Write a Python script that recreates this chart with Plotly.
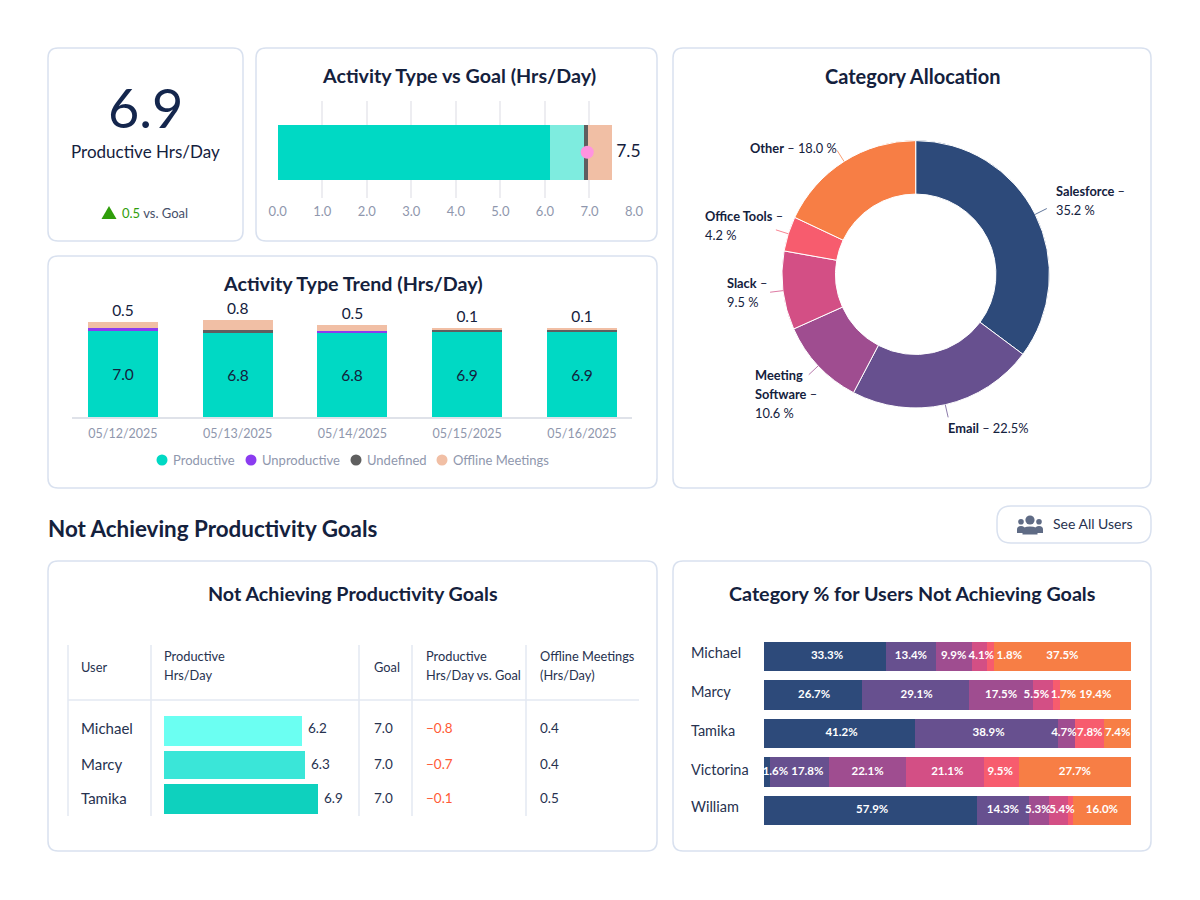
import math
import plotly.graph_objects as go

# ---------- data ----------
goal_axis_ticks = [0, 1, 2, 3, 4, 5, 6, 7, 8]
goal_stack_names = ["Productive", "Productive (other)", "Undefined", "Offline Meetings"]
goal_stack_values = [6.1, 0.77, 0.09, 0.54]
goal_marker_value = 6.95
goal_total = 7.5

trend_dates = ["05/12/2025", "05/13/2025", "05/14/2025", "05/15/2025", "05/16/2025"]
trend_productive = [7.0, 6.8, 6.8, 6.9, 6.9]
trend_unproductive = [0.2, 0.0, 0.2, 0.0, 0.0]
trend_undefined = [0.0, 0.22, 0.0, 0.2, 0.2]
trend_offline = [0.5, 0.85, 0.5, 0.14, 0.14]
trend_offline_labels = ["0.5", "0.8", "0.5", "0.1", "0.1"]

donut_labels = ["Salesforce", "Email", "Meeting Software", "Slack", "Office Tools", "Other"]
donut_values = [35.2, 22.5, 10.6, 9.5, 4.2, 18.0]

table_users = ["Michael", "Marcy", "Tamika"]
table_productive = [6.2, 6.3, 6.9]
table_goal = [7.0, 7.0, 7.0]
table_vs_goal = [-0.8, -0.7, -0.1]
table_offline = [0.4, 0.4, 0.5]

cat_users = ["Michael", "Marcy", "Tamika", "Victorina", "William"]
# printed percentages
cat_salesforce = [33.3, 26.7, 41.2, 1.6, 57.9]
cat_email = [13.4, 29.1, 38.9, 17.8, 14.3]
cat_meeting = [9.9, 17.5, 4.7, 22.1, 5.3]
cat_slack = [4.1, 5.5, 0.0, 21.1, 5.4]
cat_office = [1.8, 1.7, 7.8, 9.5, 1.1]
cat_other = [37.5, 19.4, 7.4, 27.7, 16.0]
# Victorina's drawn segment lengths differ from her printed percentages in the picture
victorina_drawn = [1.6, 16.2, 20.8, 21.2, 9.6, 30.5]
cat_hidden_labels = {("William", "Office Tools")}
# sideways label nudges, in percent points, where labels would collide
cat_nudges = [[0.5, 0, 0, 0.5, 5.2, 0],
              [0.3, 0.3, 0, -1.9, 1.9, 0],
              [0.5, 0.5, -0.8, 0, 0, 0],
              [2.3, 2.1, 0, 0.7, -0.3, 0],
              [0.5, 0, -0.3, 0.9, 0, 0]]

legend_names = ["Productive", "Unproductive", "Undefined", "Offline Meetings"]

# ---------- style ----------
FONT = "Lato"
INK = "#14213d"
GREY = "#8f97ad"
TEAL = "#00d9c4"
LTEAL = "#7eecdf"
PURPLE = "#8b3cf0"
DARK = "#5f5f5f"
PEACH = "#f1bfa5"
PINK = "#ff94e0"
BORDER = "#d9e1ef"
RULE = "#e3e8f2"
CAT_COLORS = ["#2d4a7a", "#67508f", "#9f4d90", "#d34f85", "#f75c6e", "#f77e45"]
ROW_COLORS = ["#6bfff2", "#3ae6d8", "#0ed1be"]
RED = "#ff5a36"
GREEN = "#2f9e0b"
ICON = "#5f6b85"
TABLE_INK = "#27324f"
TITLE = 19.7

W, H = 1200, 900
X = lambda p: p / W
Y = lambda p: 1 - p / H
xdom = lambda a, b: [X(a), X(b)]
ydom = lambda top, bottom: [Y(bottom), Y(top)]

shapes, annots = [], []


def text(x, y, s, size=13, color=INK, anchor="left", weight=400):
    annots.append(dict(x=X(x), y=Y(y), xref="paper", yref="paper", text=s, showarrow=False,
                       xanchor=anchor, yanchor="middle", align=anchor, borderpad=0, borderwidth=0,
                       font=dict(family=FONT, size=size, color=color, weight=weight)))


def round_rect(x0, y0, x1, y1, r=10, color=BORDER, width=1.5, fill="white"):
    rx, ry = r / W, r / H
    a, b, c, d = X(x0), Y(y0), X(x1), Y(y1)
    path = (f"M {a+rx},{b} L {c-rx},{b} Q {c},{b} {c},{b-ry} L {c},{d+ry} Q {c},{d} {c-rx},{d} "
            f"L {a+rx},{d} Q {a},{d} {a},{d+ry} L {a},{b-ry} Q {a},{b} {a+rx},{b} Z")
    shapes.append(dict(type="path", path=path, xref="paper", yref="paper",
                       line=dict(color=color, width=width), fillcolor=fill, layer="below"))


def rule(x0, y0, x1, y1, color=RULE, width=1.5, layer="below", opacity=1):
    shapes.append(dict(type="line", x0=X(x0), y0=Y(y0), x1=X(x1), y1=Y(y1), xref="paper", yref="paper",
                       line=dict(color=color, width=width), layer=layer, opacity=opacity))


def circle(cx, cy, r, color):
    shapes.append(dict(type="circle", x0=X(cx - r), x1=X(cx + r), y0=Y(cy + r), y1=Y(cy - r),
                       xref="paper", yref="paper", fillcolor=color, line=dict(width=0), layer="above"))


def body(x0, x1, top, bottom, color):
    a, c, b, d = X(x0), X(x1), Y(top), Y(bottom)
    m = (a + c) / 2
    path = f"M {a},{d} L {a},{(b+d)/2} Q {a},{b} {m},{b} Q {c},{b} {c},{(b+d)/2} L {c},{d} Z"
    shapes.append(dict(type="path", path=path, xref="paper", yref="paper",
                       fillcolor=color, line=dict(width=0), layer="above"))


# ---------- cards ----------
for box in [(48, 48, 243, 241), (256, 48, 657, 241), (48, 256, 657, 488), (673, 48, 1151, 488),
            (48, 561, 657, 851), (673, 561, 1151, 851)]:
    round_rect(*box)
round_rect(997, 506, 1151, 543, r=14)

fig = go.Figure()

# ---------- KPI card ----------
text(145.5, 107, "6.9", size=54, anchor="center", color="#14264d")
text(145.5, 151, "Productive Hrs/Day", size=17, anchor="center")
shapes.append(dict(type="path", xref="paper", yref="paper", fillcolor=GREEN, line=dict(width=0), layer="above",
                   path=f"M {X(101.5)},{Y(219)} L {X(109)},{Y(206)} L {X(116.5)},{Y(219)} Z"))
text(122, 213, f'<span style="color:{GREEN}">0.5</span> vs. Goal', size=13, color="#465069")

# ---------- Activity vs goal ----------
text(458.5, 76, "Activity Type vs Goal (Hrs/Day)", size=TITLE, anchor="center", weight=700)
for name, v, c in zip(goal_stack_names, goal_stack_values, [TEAL, LTEAL, DARK, PEACH]):
    fig.add_bar(x=[v], y=[0], orientation="h", name=name, marker=dict(color=c, line=dict(width=0)),
                width=0.567, xaxis="x", yaxis="y", showlegend=False)
fig.add_scatter(x=[goal_marker_value], y=[0], mode="markers", name="Goal", showlegend=False,
                marker=dict(color=PINK, size=13), xaxis="x", yaxis="y")
fig.add_scatter(x=[goal_total], y=[0], mode="text", text=[f" {goal_total:.1f}"], textposition="middle right",
                textfont=dict(family=FONT, size=17.5, color=INK), showlegend=False, xaxis="x", yaxis="y",
                cliponaxis=False)

# ---------- Trend ----------
text(352.5, 283.5, "Activity Type Trend (Hrs/Day)", size=TITLE, anchor="center", weight=700)
series = [("Productive", trend_productive, TEAL), ("Unproductive", trend_unproductive, PURPLE),
          ("Undefined", trend_undefined, DARK), ("Offline Meetings", trend_offline, PEACH)]
for name, vals, c in series:
    kw = {}
    if name == "Productive":
        kw = dict(text=[f"{v:.1f}" for v in vals], textposition="inside", insidetextanchor="middle",
                  textangle=0, insidetextfont=dict(family=FONT, size=15.5, color=INK))
    fig.add_bar(x=trend_dates, y=vals, name=name, marker=dict(color=c, line=dict(width=0)), width=0.61,
                xaxis="x2", yaxis="y2", showlegend=False, **kw)
totals = [sum(t) for t in zip(trend_productive, trend_unproductive, trend_undefined, trend_offline)]
fig.add_scatter(x=trend_dates, y=[t + 0.16 for t in totals], mode="text", text=trend_offline_labels,
                textposition="top center", textfont=dict(family=FONT, size=15.5, color=INK), showlegend=False,
                xaxis="x2", yaxis="y2", cliponaxis=False)
for name, cxp, tx, c in zip(legend_names, [162, 251, 356, 442], [173, 262, 367, 453],
                            [TEAL, PURPLE, DARK, PEACH]):
    circle(cxp, 460, 5.5, c)
    text(tx, 460, name, size=13, color=GREY)

# ---------- Donut ----------
text(912, 76, "Category Allocation", size=20, anchor="center", weight=700)
fig.add_pie(labels=donut_labels, values=donut_values, hole=0.6, sort=False, direction="clockwise", rotation=0,
            marker=dict(colors=CAT_COLORS, line=dict(color="white", width=1)), textinfo="none",
            domain=dict(x=xdom(782, 1049.4), y=ydom(140.6, 408)), showlegend=False)
cx, cy, R = 915.7, 274.3, 133.7
cum = 0
for v, c in zip(donut_values, CAT_COLORS):
    ang = math.radians((cum + v / 2) * 3.6)
    cum += v
    rule(cx + R * math.sin(ang), cy - R * math.cos(ang), cx + (R + 13) * math.sin(ang),
         cy - (R + 13) * math.cos(ang), color=c, width=1, layer="above", opacity=0.75)
pct = dict(zip(donut_labels, donut_values))
LBL = 12.8
text(1056, 191, "<b>Salesforce</b> –", size=LBL)
text(1056, 210, f"{pct['Salesforce']:.1f} %", size=LBL)
text(750, 148, f"<b>Other</b> – {pct['Other']:.1f} %", size=LBL)
text(705, 215.5, "<b>Office Tools</b> –", size=LBL)
text(705, 234.5, f"{pct['Office Tools']:.1f} %", size=LBL)
text(727, 283, "<b>Slack</b> –", size=LBL)
text(727, 302, f"{pct['Slack']:.1f} %", size=LBL)
text(755, 375, "<b>Meeting</b>", size=LBL)
text(755, 394, "<b>Software</b> –", size=LBL)
text(755, 413, f"{pct['Meeting Software']:.1f} %", size=LBL)
text(948, 428, f"<b>Email</b> – {pct['Email']:.1f}%", size=LBL)

# ---------- Section heading + button ----------
text(48, 528, "Not Achieving Productivity Goals", size=22.4, weight=700)
text(1053, 523.5, "See All Users", size=14, color=TABLE_INK)
circle(1021, 521.7, 2.8, ICON)
circle(1039, 521.7, 2.8, ICON)
body(1017, 1025, 526, 533, ICON)
body(1035, 1043, 526, 533, ICON)
circle(1030, 520, 4.6, ICON)
body(1022.5, 1037.5, 526.5, 534.5, ICON)

# ---------- Table ----------
text(352.5, 593.5, "Not Achieving Productivity Goals", size=TITLE, anchor="center", weight=700)
for vx in [68, 151, 359, 412, 526]:
    rule(vx, 645, vx, 816)
rule(68, 700, 639, 700)
for x0, y0, s in [(81, 666.5, "User"), (164, 655.5, "Productive"), (164, 674.5, "Hrs/Day"), (374, 666.5, "Goal"),
                  (426, 655.5, "Productive"), (426, 674.5, "Hrs/Day vs. Goal"),
                  (540, 655.5, "Offline Meetings"), (540, 674.5, "(Hrs/Day)")]:
    text(x0, y0, s, size=12.8, color=TABLE_INK)
fig.add_bar(y=table_users, x=table_productive, orientation="h", name="Productive Hrs/Day",
            width=[0.88, 0.81, 0.88], marker=dict(color=ROW_COLORS, line=dict(width=0)),
            xaxis="x3", yaxis="y3", showlegend=False)
TABLE_PX_PER_HOUR = 195 / 8.74
for yy, u, p, g, d, o in zip([727.5, 763.5, 797.5], table_users, table_productive, table_goal,
                             table_vs_goal, table_offline):
    text(81, yy, u, size=15, color=TABLE_INK)
    text(164 + p * TABLE_PX_PER_HOUR + 6, yy, f"{p:.1f}", size=13.5, color=TABLE_INK)
    text(374, yy, f"{g:.1f}", size=13.5, color=TABLE_INK)
    text(426, yy, f"−{abs(d):.1f}", size=13.5, color=RED)
    text(540, yy, f"{o:.1f}", size=13.5, color=TABLE_INK)

# ---------- Category % ----------
text(912, 593.5, "Category % for Users Not Achieving Goals", size=TITLE, anchor="center", weight=700)
cat_rows = [cat_salesforce, cat_email, cat_meeting, cat_slack, cat_office, cat_other]
drawn_rows = []
for j, vals in enumerate(cat_rows):
    row = list(vals)
    row[cat_users.index("Victorina")] = victorina_drawn[j]
    drawn_rows.append(row)
for name, vals, c in zip(donut_labels, drawn_rows, CAT_COLORS):
    fig.add_bar(y=cat_users, x=vals, orientation="h", name=name, width=0.764,
                marker=dict(color=c, line=dict(width=0)), xaxis="x4", yaxis="y4", showlegend=False)
lab_x, lab_y, lab_t = [], [], []
for i, u in enumerate(cat_users):
    run = 0
    for j, name in enumerate(donut_labels):
        v, drawn = cat_rows[j][i], drawn_rows[j][i]
        if v > 0 and (u, name) not in cat_hidden_labels:
            lab_x.append(run + drawn / 2 + cat_nudges[i][j])
            lab_y.append(u)
            lab_t.append(f"{v:.1f}%")
        run += drawn
fig.add_scatter(x=lab_x, y=lab_y, mode="text", text=lab_t, textposition="middle center",
                textfont=dict(family=FONT, size=11.5, color="white", weight=700), showlegend=False,
                xaxis="x4", yaxis="y4", cliponaxis=False)
for yy, u in zip([652, 691, 730.5, 769, 806], cat_users):
    text(691, yy, u, size=14.5, color=TABLE_INK)

# ---------- layout ----------
hidden = dict(visible=False, fixedrange=True)
fig.update_layout(
    width=W, height=H, margin=dict(l=0, r=0, t=0, b=0, autoexpand=False), paper_bgcolor="white",
    plot_bgcolor="rgba(0,0,0,0)", barmode="stack", bargap=0, font=dict(family=FONT, color=INK),
    shapes=shapes, annotations=annots, showlegend=False,
    xaxis=dict(domain=xdom(277.7, 634), range=[0, 8], tickvals=goal_axis_ticks, tickformat=".1f",
               anchor="y", showgrid=True, gridcolor="#ededf1", gridwidth=1.5, zeroline=False, showline=False,
               ticks="", tickfont=dict(family=FONT, size=13, color=GREY), ticklabelstandoff=4),
    yaxis=dict(domain=ydom(101, 198), range=[-0.472, 0.528], **hidden),
    xaxis2=dict(domain=xdom(72, 632), range=[-0.444, 4.436], type="category", anchor="y2", showgrid=False,
                zeroline=False, showline=True, linecolor="#dfe2e9", linewidth=1.5, ticks="",
                tickfont=dict(family=FONT, size=12.5, color=GREY), ticklabelstandoff=4),
    yaxis2=dict(domain=ydom(300, 417.3), range=[0, 9.48], **hidden),
    xaxis3=dict(domain=xdom(164, 359), range=[0, 8.74], anchor="y3", **hidden),
    yaxis3=dict(domain=ydom(714, 816), range=[2.5, -0.5], type="category", **hidden),
    xaxis4=dict(domain=xdom(764, 1131.3), range=[0, 100], anchor="y4", **hidden),
    yaxis4=dict(domain=ydom(636.8, 829.8), range=[4.5, -0.5], type="category", **hidden),
)

fig.write_html("out.html", config=dict(displayModeBar=False),
               post_script="document.body.style.margin='0';document.body.style.overflow='hidden';")
